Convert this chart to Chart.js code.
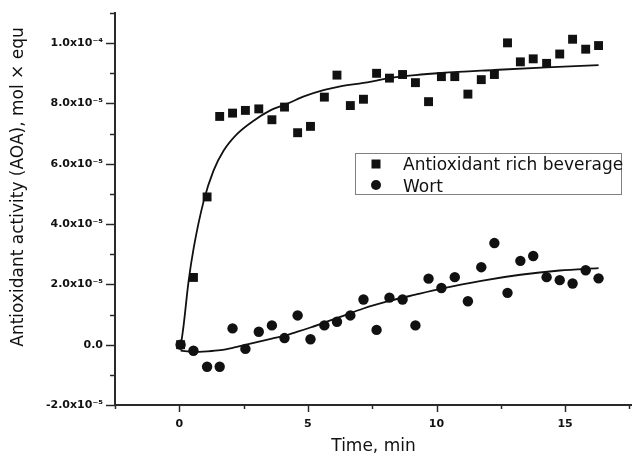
<!DOCTYPE html>
<html>
<head>
<meta charset="utf-8">
<script src="https://cdn.jsdelivr.net/npm/chart.js@4.4.1/dist/chart.umd.min.js"></script>
<style>
html,body{margin:0;padding:0;background:#fff;}
#wrap{width:632px;height:461px;position:relative;}
</style>
</head>
<body>
<div id="wrap"><canvas id="c" width="632" height="461"></canvas></div>
<script>
// ---- data ----
const timeMin = [0.05,0.55,1.08,1.57,2.07,2.57,3.09,3.6,4.09,4.6,5.1,5.64,6.13,6.65,7.16,7.67,8.17,8.68,9.18,9.69,10.19,10.71,11.22,11.74,12.25,12.76,13.26,13.76,14.28,14.79,15.29,15.8,16.3];
const beverage = [0,2.23e-5,4.9e-5,7.57e-5,7.68e-5,7.77e-5,7.82e-5,7.46e-5,7.88e-5,7.03e-5,7.24e-5,8.21e-5,8.94e-5,7.93e-5,8.14e-5,9.0e-5,8.84e-5,8.96e-5,8.69e-5,8.06e-5,8.89e-5,8.89e-5,8.31e-5,8.79e-5,8.96e-5,10.01e-5,9.38e-5,9.48e-5,9.33e-5,9.64e-5,10.13e-5,9.8e-5,9.92e-5];
const wort = [0,-0.2e-5,-0.73e-5,-0.73e-5,0.54e-5,-0.14e-5,0.43e-5,0.64e-5,0.22e-5,0.97e-5,0.18e-5,0.64e-5,0.76e-5,0.97e-5,1.5e-5,0.49e-5,1.56e-5,1.5e-5,0.64e-5,2.19e-5,1.88e-5,2.24e-5,1.44e-5,2.57e-5,3.37e-5,1.72e-5,2.78e-5,2.94e-5,2.24e-5,2.14e-5,2.03e-5,2.47e-5,2.2e-5];
const beverageFitTime = [0.05,0.17,0.36,0.56,0.95,1.33,1.72,2.25,2.89,3.54,4.19,4.9,5.64,6.26,7.16,7.67,8.17,9.18,10.19,12.25,14.28,16.3];
const beverageFit = [-0.1e-5,0.66e-5,2.1e-5,3.21e-5,4.77e-5,5.77e-5,6.43e-5,6.99e-5,7.43e-5,7.77e-5,7.99e-5,8.25e-5,8.45e-5,8.57e-5,8.68e-5,8.76e-5,8.84e-5,8.94e-5,9.01e-5,9.11e-5,9.2e-5,9.27e-5];
const wortFitTime = [0.05,0.56,1.08,1.6,2.1,2.6,3.1,3.6,4.1,4.6,5.1,5.63,6.26,7.16,8.17,9.18,10.19,11.74,13.26,14.79,16.3];
const wortFit = [-0.2e-5,-0.24e-5,-0.22e-5,-0.18e-5,-0.1e-5,0,0.1e-5,0.2e-5,0.3e-5,0.43e-5,0.57e-5,0.73e-5,0.92e-5,1.2e-5,1.45e-5,1.66e-5,1.86e-5,2.12e-5,2.32e-5,2.46e-5,2.54e-5];
const seriesNames = ['Antioxidant rich beverage','Wort'];
const xTickValues = [-2.5,0,2.5,5,7.5,10,12.5,15,17.5];
const xTickLabels = ['','0','','5','','10','','15',''];
const yTickValues = [-2e-5,-1e-5,0,1e-5,2e-5,3e-5,4e-5,5e-5,6e-5,7e-5,8e-5,9e-5,1e-4,1.1e-4];
const yTickLabels = ['-2.0x10\u207B\u2075','','0.0','','2.0x10\u207B\u2075','','4.0x10\u207B\u2075','','6.0x10\u207B\u2075','','8.0x10\u207B\u2075','','1.0x10\u207B\u2074',''];
const xTitle = 'Time, min';
const yTitle = 'Antioxidant activity (AOA), mol \u00D7 equ';

const ink = '#111';
const axisColor = '#2a2a2a';

const pts = (xs, ys) => xs.map((x, i) => ({x: x, y: ys[i]}));

const decor = {
  id: 'decor',
  afterDraw(chart) {
    const ctx = chart.ctx, xs = chart.scales.x, ys = chart.scales.y, ca = chart.chartArea;
    ctx.save();
    ctx.strokeStyle = axisColor;
    ctx.lineWidth = 1.5;
    yTickValues.forEach((v, i) => {
      const py = Math.round(ys.getPixelForValue(v)) + 0.5;
      const len = yTickLabels[i] ? 9 : 5;
      ctx.beginPath(); ctx.moveTo(ca.left - len, py); ctx.lineTo(ca.left, py); ctx.stroke();
    });
    xTickValues.forEach((v, i) => {
      const px = Math.round(xs.getPixelForValue(v)) + 0.5;
      const len = xTickLabels[i] ? 7 : 4;
      ctx.beginPath(); ctx.moveTo(px, ca.bottom); ctx.lineTo(px, ca.bottom + len); ctx.stroke();
    });
    // y title
    ctx.save();
    ctx.translate(19, 187);
    ctx.rotate(-Math.PI / 2);
    ctx.fillStyle = ink;
    ctx.font = '17px "DejaVu Sans"';
    ctx.textAlign = 'center';
    ctx.textBaseline = 'middle';
    ctx.fillText(yTitle, 0, 0);
    ctx.restore();
    // legend
    ctx.strokeStyle = '#808080';
    ctx.lineWidth = 1;
    ctx.strokeRect(355.5, 153.5, 266, 41);
    ctx.fillStyle = ink;
    ctx.fillRect(371.5, 159.5, 9, 9);
    ctx.beginPath(); ctx.arc(376, 185, 5, 0, Math.PI * 2); ctx.fill();
    ctx.font = '17px "DejaVu Sans"';
    ctx.textAlign = 'left';
    ctx.textBaseline = 'alphabetic';
    ctx.fillText(seriesNames[0], 403, 170);
    ctx.fillText(seriesNames[1], 403, 192);
    ctx.restore();
  }
};

new Chart(document.getElementById('c'), {
  type: 'scatter',
  data: {
    datasets: [
      {label: seriesNames[0], data: pts(timeMin, beverage), pointStyle: 'rect', pointRadius: 6.3, backgroundColor: ink, borderWidth: 0, order: 1},
      {label: seriesNames[1], data: pts(timeMin, wort), pointStyle: 'circle', pointRadius: 5.2, backgroundColor: ink, borderWidth: 0, order: 1},
      {label: 'fit1', data: pts(beverageFitTime, beverageFit), showLine: true, pointRadius: 0, borderColor: ink, borderWidth: 1.8, cubicInterpolationMode: 'monotone', fill: false, order: 0},
      {label: 'fit2', data: pts(wortFitTime, wortFit), showLine: true, pointRadius: 0, borderColor: ink, borderWidth: 1.8, cubicInterpolationMode: 'monotone', fill: false, order: 0}
    ]
  },
  options: {
    responsive: false,
    animation: false,
    devicePixelRatio: 1,
    layout: {autoPadding: false, padding: {top: 13, right: 0, left: 0, bottom: 0}},
    plugins: {legend: {display: false}, tooltip: {enabled: false}},
    scales: {
      x: {
        type: 'linear', min: -2.5, max: 17.6,
        grid: {display: false, drawTicks: false},
        border: {display: true, color: axisColor, width: 2},
        afterBuildTicks: s => { s.ticks = xTickValues.map(v => ({value: v})); },
        afterFit: s => { s.height = 56; s.paddingLeft = 0; s.paddingRight = 0; },
        ticks: {autoSkip: false, maxRotation: 0, padding: 13, color: ink, font: {family: 'DejaVu Sans', weight: 'bold', size: 11},
          callback: (v, i) => xTickLabels[i]},
        title: {display: true, text: xTitle, color: ink, font: {family: 'DejaVu Sans', size: 17}, padding: {top: 0, bottom: 4}}
      },
      y: {
        type: 'linear', min: -2e-5, max: 1.1e-4,
        grid: {display: false, drawTicks: false},
        border: {display: true, color: axisColor, width: 2},
        afterBuildTicks: s => { s.ticks = yTickValues.map(v => ({value: v})); },
        afterFit: s => { s.width = 115; s.paddingTop = 0; s.paddingBottom = 0; },
        ticks: {autoSkip: false, padding: 12, color: ink, font: {family: 'DejaVu Sans', weight: 'bold', size: 11},
          callback: (v, i) => yTickLabels[i]}
      }
    }
  },
  plugins: [decor]
});
</script>
</body>
</html>
